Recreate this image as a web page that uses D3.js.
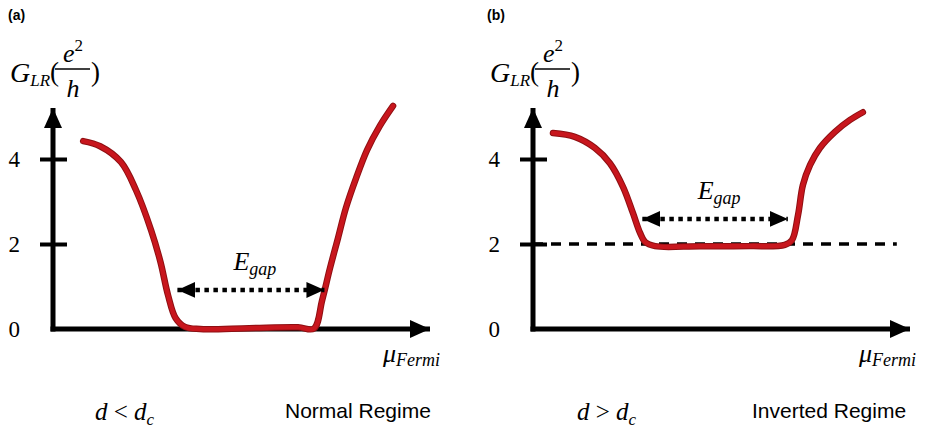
<!DOCTYPE html>
<html>
<head>
<meta charset="utf-8">
<script src="https://cdn.jsdelivr.net/npm/d3@7"></script>
<style>
  body { margin: 0; background: #fff; }
</style>
</head>
<body>
<div id="wrapper"></div>
<script>
// μ_Fermi in arbitrary units (0..100 along the axis), G_LR in units of e²/h
const muNormal = [8, 12.5, 18, 22, 26, 28.5, 30.5, 32.5, 35, 39, 52, 65, 69.2, 71.4, 73.5, 75.6, 77.7, 80.4, 83.3, 86.7, 90.2];
const gNormal = [4.42, 4.3, 3.93, 3.27, 2.33, 1.58, 0.8, 0.26, 0.05, 0.0, 0.02, 0.04, 0.01, 0.68, 1.44, 2.14, 2.85, 3.55, 4.21, 4.78, 5.25];

const muInverted = [5.3, 11.1, 16.4, 20.4, 23.9, 26.5, 28.4, 29.7, 32.4, 44.3, 57.6, 66.8, 68.7, 70.3, 71.6, 73.5, 76.1, 80.1, 84.1, 87.5];
const gInverted = [4.61, 4.52, 4.26, 3.9, 3.34, 2.73, 2.26, 2.05, 1.95, 1.95, 1.95, 1.98, 2.09, 2.68, 3.39, 3.86, 4.26, 4.64, 4.92, 5.1];

const yTicks = [0, 2, 4];
const gapNormal = [33, 72];
const gapNormalLevel = 0.92;
const gapInverted = [29, 67.6];
const gapInvertedLevel = 2.59;
const plateauInverted = 2;
const panelLetters = ["(a)", "(b)"];
const dRelations = ["<", ">"];
const regimeLabels = ["Normal Regime", "Inverted Regime"];

const serif = "'Liberation Serif', 'DejaVu Serif', serif";
const sans = "'Liberation Sans', Arial, sans-serif";
const red = "#c8161d";

const svg = d3.select("#wrapper")
    .append("svg")
    .attr("width", 925)
    .attr("height", 439);

const defs = svg.append("defs");
// arrow head for axes
defs.append("marker")
    .attr("id", "axisHead")
    .attr("markerUnits", "userSpaceOnUse")
    .attr("viewBox", "0 -10 20 20")
    .attr("refX", 20).attr("refY", 0)
    .attr("markerWidth", 20).attr("markerHeight", 20)
    .attr("orient", "auto")
    .append("path")
    .attr("d", "M0,-9L20,0L0,9Z")
    .attr("fill", "#000");
// arrow heads for the gap arrow
defs.append("marker")
    .attr("id", "gapHead")
    .attr("markerUnits", "userSpaceOnUse")
    .attr("viewBox", "0 -10 18 20")
    .attr("refX", 18).attr("refY", 0)
    .attr("markerWidth", 18).attr("markerHeight", 20)
    .attr("orient", "auto-start-reverse")
    .append("path")
    .attr("d", "M0,-8L18,0L0,8Z")
    .attr("fill", "#000");

const panels = [
    { ox: 53, letterX: 8, labelX: 10, muX: 383, dX: 95, regimeX: 285,
      mu: muNormal, g: gNormal, gap: gapNormal, gapLevel: gapNormalLevel, plateau: null },
    { ox: 533, letterX: 487, labelX: 490, muX: 859, dX: 577, regimeX: 752,
      mu: muInverted, g: gInverted, gap: gapInverted, gapLevel: gapInvertedLevel, plateau: plateauInverted }
];

panels.forEach((p, i) => {
    const xScale = d3.scaleLinear().domain([0, 100]).range([p.ox, p.ox + 377]);
    const yScale = d3.scaleLinear().domain([0, 5.2]).range([329, 108]);
    const g = svg.append("g");

    // panel letter
    g.append("text")
        .attr("x", p.letterX).attr("y", 20)
        .attr("font-family", sans).attr("font-weight", "bold").attr("font-size", 14)
        .text(panelLetters[i]);

    // y label G_LR(e^2/h)
    const yl = g.append("text")
        .attr("x", p.labelX).attr("y", 82)
        .attr("font-family", serif).attr("font-style", "italic").attr("font-size", 28);
    yl.append("tspan").text("G");
    yl.append("tspan").attr("font-size", 17).attr("dy", 4).text("LR");
    g.append("text").attr("x", p.labelX + 40).attr("y", 81)
        .attr("font-family", serif).attr("font-size", 27).text("(");
    g.append("text").attr("x", p.labelX + 81).attr("y", 81)
        .attr("font-family", serif).attr("font-size", 27).text(")");
    const num = g.append("text")
        .attr("x", p.labelX + 63).attr("y", 62)
        .attr("text-anchor", "middle")
        .attr("font-family", serif).attr("font-style", "italic").attr("font-size", 26);
    num.append("tspan").text("e");
    num.append("tspan").attr("font-style", "normal").attr("font-size", 17).attr("dy", -11).text("2");
    g.append("line")
        .attr("x1", p.labelX + 45).attr("x2", p.labelX + 80)
        .attr("y1", 69).attr("y2", 69)
        .attr("stroke", "#000").attr("stroke-width", 1.5);
    g.append("text")
        .attr("x", p.labelX + 63).attr("y", 97)
        .attr("text-anchor", "middle")
        .attr("font-family", serif).attr("font-style", "italic").attr("font-size", 26)
        .text("h");

    // dashed plateau
    if (p.plateau !== null) {
        g.append("line")
            .attr("x1", xScale(0)).attr("x2", xScale(96.5))
            .attr("y1", yScale(p.plateau)).attr("y2", yScale(p.plateau))
            .attr("stroke", "#000").attr("stroke-width", 3.5)
            .attr("stroke-dasharray", "10 8");
    }

    // y axis ticks + labels
    const yAxisGen = d3.axisLeft(yScale)
        .tickValues(yTicks)
        .tickSizeInner(13)
        .tickSizeOuter(0)
        .tickPadding(20)
        .tickFormat(d3.format("d"));
    const yAxis = g.append("g")
        .attr("transform", `translate(${p.ox},0)`)
        .call(yAxisGen);
    yAxis.select(".domain").remove();
    yAxis.selectAll(".tick line")
        .attr("x1", 14)
        .attr("stroke-width", 4)
        .filter(d => d === 0).remove();
    yAxis.selectAll(".tick text")
        .attr("font-family", serif).attr("font-size", 23)
        .attr("fill", "#000");

    // axes with arrow heads
    g.append("line")
        .attr("x1", xScale(0)).attr("x2", xScale(0))
        .attr("y1", yScale(0) + 2.5).attr("y2", yScale(5.2))
        .attr("stroke", "#000").attr("stroke-width", 5)
        .attr("marker-end", "url(#axisHead)");
    g.append("line")
        .attr("x1", xScale(0) - 2.5).attr("x2", xScale(100))
        .attr("y1", yScale(0)).attr("y2", yScale(0))
        .attr("stroke", "#000").attr("stroke-width", 5)
        .attr("marker-end", "url(#axisHead)");

    // conductance curve
    const pts = p.mu.map((m, k) => [m, p.g[k]]);
    const line = d3.line()
        .x(d => xScale(d[0]))
        .y(d => yScale(d[1]))
        .curve(d3.curveCatmullRom.alpha(0.5));
    g.append("path")
        .datum(pts)
        .attr("d", line)
        .attr("fill", "none")
        .attr("stroke", "#8e0f12")
        .attr("stroke-width", 6.5)
        .attr("stroke-linecap", "round");
    g.append("path")
        .datum(pts)
        .attr("d", line)
        .attr("fill", "none")
        .attr("stroke", red)
        .attr("stroke-width", 4.5)
        .attr("stroke-linecap", "round");

    // E_gap double arrow
    g.append("line")
        .attr("x1", xScale(p.gap[0])).attr("x2", xScale(p.gap[1]))
        .attr("y1", yScale(p.gapLevel)).attr("y2", yScale(p.gapLevel))
        .attr("stroke", "#000").attr("stroke-width", 4.5)
        .attr("stroke-dasharray", "4.5 4.5")
        .attr("marker-start", "url(#gapHead)")
        .attr("marker-end", "url(#gapHead)");
    const eg = g.append("text")
        .attr("x", xScale((p.gap[0] + p.gap[1]) / 2) + 4)
        .attr("y", yScale(p.gapLevel) - 20)
        .attr("text-anchor", "middle")
        .attr("font-family", serif).attr("font-style", "italic").attr("font-size", 26);
    eg.append("tspan").text("E");
    eg.append("tspan").attr("font-size", 18).attr("dy", 5).text("gap");

    // μ_Fermi label
    const mt = g.append("text")
        .attr("x", p.muX).attr("y", 362)
        .attr("font-family", serif).attr("font-style", "italic").attr("font-size", 26);
    mt.append("tspan").text("μ");
    mt.append("tspan").attr("font-size", 18).attr("dy", 4).text("Fermi");

    // bottom captions
    const dt = g.append("text")
        .attr("x", p.dX).attr("y", 420)
        .attr("font-family", serif).attr("font-size", 25);
    dt.append("tspan").attr("font-style", "italic").text("d");
    dt.append("tspan").text(" " + dRelations[i] + " ");
    dt.append("tspan").attr("font-style", "italic").text("d");
    dt.append("tspan").attr("font-style", "italic").attr("font-size", 17).attr("dy", 5).text("c");

    g.append("text")
        .attr("x", p.regimeX).attr("y", 418)
        .attr("font-family", sans).attr("font-size", 21)
        .text(regimeLabels[i]);
});
</script>
</body>
</html>
